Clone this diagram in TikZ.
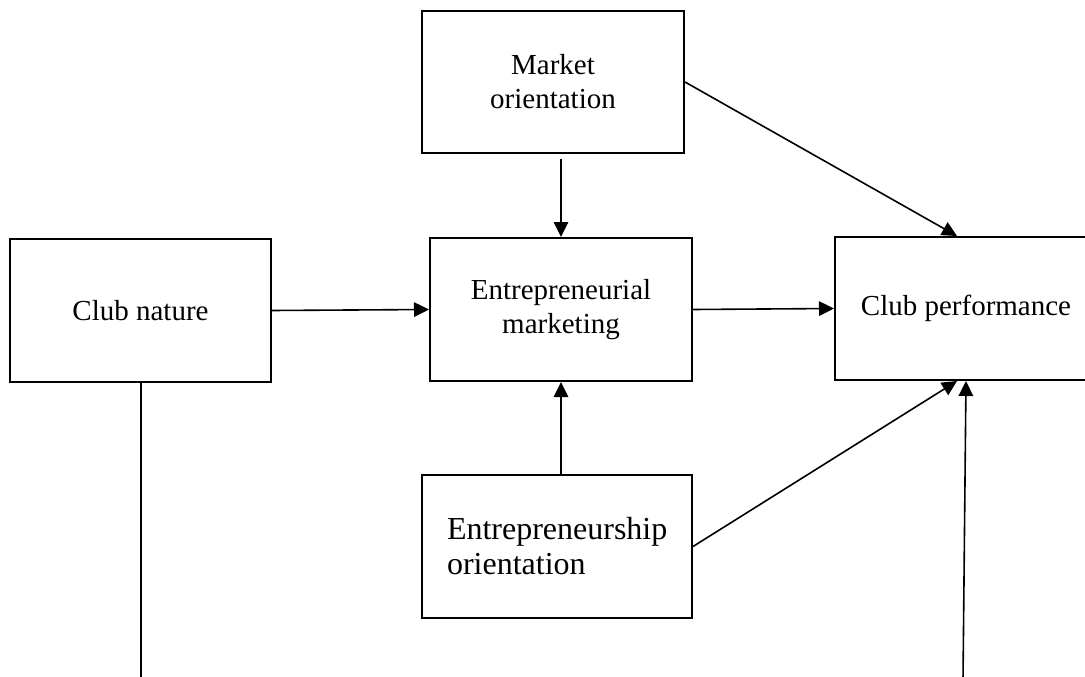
\documentclass[tikz,border=0pt]{standalone}
\usepackage{fontspec}
\setmainfont{Liberation Serif}
\usetikzlibrary{arrows.meta,calc}
\begin{document}
\begin{tikzpicture}[x=1pt,y=-1pt,
  boxa/.style={draw,line width=2pt,minimum width=262pt,minimum height=143pt,
    align=center,inner sep=0pt,font=\fontsize{29}{34}\selectfont},
  arr/.style={line width=1.6pt,-{Triangle[length=15pt,width=14.5pt]}},
  plain/.style={line width=1.6pt}]
\useasboundingbox (0,0) rectangle (1085,677);
\clip (0,0) rectangle (1085,677);
\node[boxa,minimum width=261pt] (cn) at (140.5,310.5) {Club nature};
\node[boxa] (em) at (561,309.5) {Entrepreneurial\\marketing};
\node[boxa,minimum height=142pt] (mo) at (553,82) {Market\\orientation};
\node[boxa,minimum width=270pt,text width=220pt,inner xsep=25pt,align=left,
  font=\fontsize{32}{35}\selectfont] (eo) at (557,546.5) {Entrepreneurship\\orientation};
\node[boxa] (cp) at (966,308.5) {Club performance};
\coordinate (b1) at (141,680);
\coordinate (b2) at (963,680);
\draw[arr] (cn.east) -- (em.west);
\draw[arr] ([yshift=-5pt]mo.south -| em.north) -- (em.north);
\draw[arr] (mo.east) -- ([xshift=-9pt]cp.north);
\draw[arr] (em.east) -- (cp.west);
\draw[arr] (eo.north -| em.south) -- (em.south);
\draw[arr] (eo.east) -- ([xshift=-9pt]cp.south);
\draw[arr] (b2) -- (cp.south);
\draw[plain] (cn.south -| b1) -- (b1);
\end{tikzpicture}
\end{document}
